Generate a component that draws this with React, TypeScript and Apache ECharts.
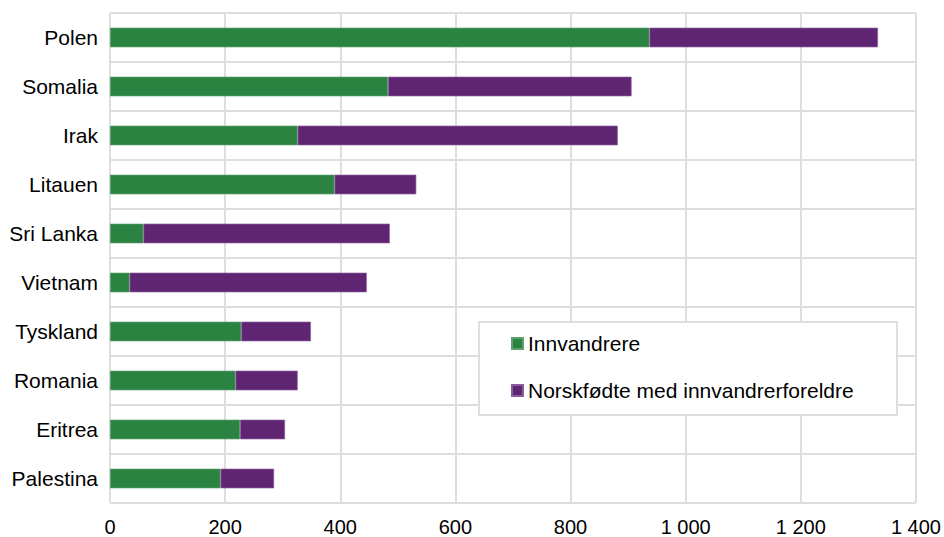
import React, { useEffect, useRef } from "react";
import * as echarts from "echarts";

const categories = ["Polen", "Somalia", "Irak", "Litauen", "Sri Lanka", "Vietnam", "Tyskland", "Romania", "Eritrea", "Palestina"];
const innvandrere = [937, 483, 326, 390, 58, 34, 228, 218, 226, 192];
const norskfodte = [397, 423, 556, 142, 428, 412, 121, 108, 78, 93];
const seriesNames = ["Innvandrere", "Norskfødte med innvandrerforeldre"];
const xTicks = { min: 0, max: 1400, interval: 200 };

const GREEN = "#2a8341";
const PURPLE = "#5f2573";
const GRID = "#dedede";
const FONT = "'Liberation Sans', Arial, sans-serif";

const fmt = (v: number) => String(v).replace(/\B(?=(\d{3})+(?!\d))/g, " ");

export default function App() {
  const ref = useRef<HTMLDivElement>(null);
  useEffect(() => {
    if (!ref.current) return;
    const chart = echarts.init(ref.current, undefined, { renderer: "svg" });
    chart.setOption({
      animation: false,
      backgroundColor: "#ffffff",
      grid: { left: 110, right: 28, top: 13, bottom: 34, containLabel: false },
      xAxis: {
        type: "value",
        min: xTicks.min,
        max: xTicks.max,
        interval: xTicks.interval,
        axisLine: { show: false },
        axisTick: { show: false },
        splitLine: { show: true, lineStyle: { color: GRID, width: 2 } },
        axisLabel: { color: "#000", fontSize: 20, fontFamily: FONT, margin: 14, formatter: (v: number) => fmt(v) },
      },
      yAxis: {
        type: "category",
        data: categories,
        inverse: true,
        axisLine: { show: false },
        axisTick: { show: false },
        splitLine: { show: true, lineStyle: { color: GRID, width: 2 } },
        axisLabel: { color: "#000", fontSize: 21, fontFamily: FONT, margin: 12 },
      },
      graphic: [
        {
          type: "rect",
          z: 3,
          shape: { x: 479, y: 322, width: 418, height: 93 },
          style: { fill: "#ffffff", stroke: GRID, lineWidth: 2 },
        },
      ],
      legend: {
        orient: "vertical",
        left: 511,
        top: 333,
        itemGap: 26,
        icon: "rect",
        itemWidth: 11,
        itemHeight: 11,
        padding: 0,
        textStyle: { color: "#000", fontSize: 21, fontFamily: FONT },
        data: seriesNames,
      },
      series: [
        {
          name: seriesNames[0],
          type: "bar",
          stack: "total",
          barWidth: "40%",
          data: innvandrere,
          itemStyle: { color: GREEN, borderColor: "#5d9f6e", borderWidth: 0.7 },
        },
        {
          name: seriesNames[1],
          type: "bar",
          stack: "total",
          barWidth: "40%",
          data: norskfodte,
          itemStyle: { color: PURPLE, borderColor: "#8a5c9c", borderWidth: 0.7 },
        },
      ],
    });
    return () => chart.dispose();
  }, []);
  return <div ref={ref} style={{ width: 944, height: 537, position: "absolute", left: 0, top: 0 }} />;
}
